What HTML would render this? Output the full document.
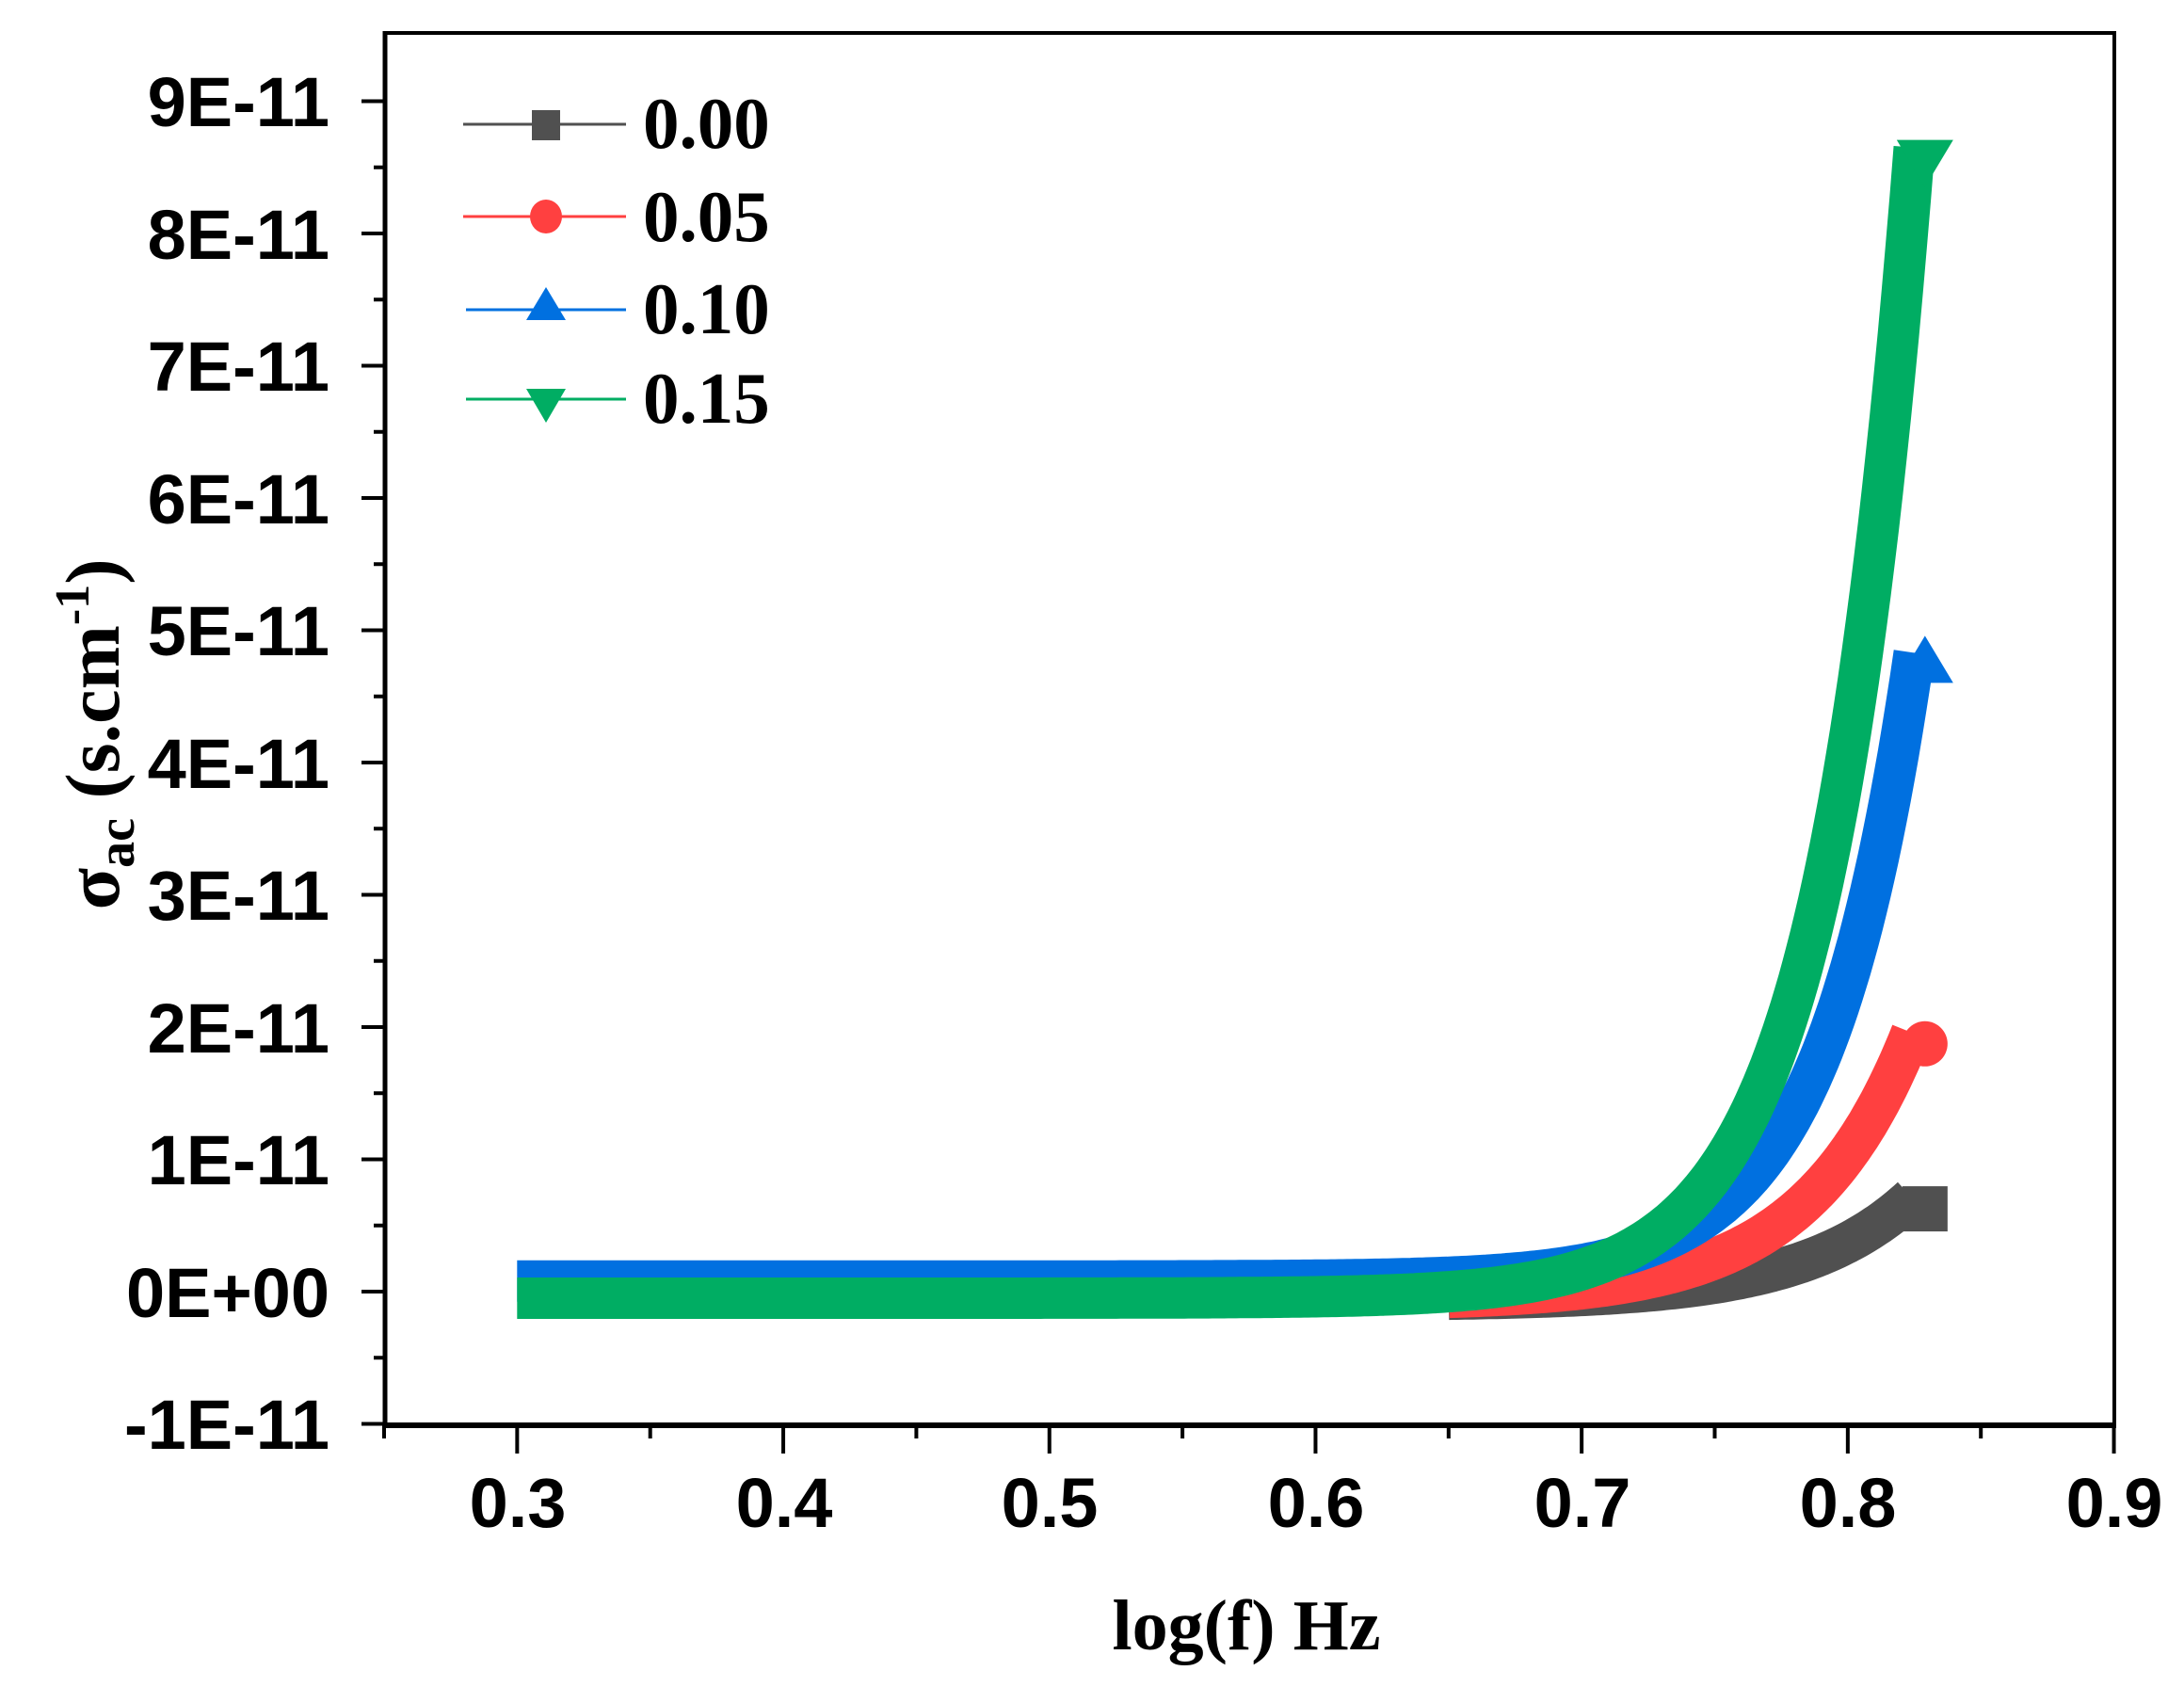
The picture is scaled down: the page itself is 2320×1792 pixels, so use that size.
<!DOCTYPE html>
<html><head><meta charset="utf-8"><style>
body{margin:0;background:#fff;}
svg{display:block;}
.tl{font-family:"Liberation Sans",sans-serif;font-weight:bold;font-size:74px;fill:#000;}
.tm{font-family:"Liberation Serif",serif;font-weight:bold;fill:#000;}
</style></head><body>
<svg id="s" width="2320" height="1792" viewBox="0 0 2320 1792" xmlns="http://www.w3.org/2000/svg">
<rect width="2320" height="1792" fill="#fff"/>
<g id="curves"></g>
<rect x="409" y="35" width="1837" height="1479" fill="none" stroke="#000" stroke-width="4"/>
<line x1="407" y1="1514" x2="2248" y2="1514" stroke="#000" stroke-width="6"/>
<line x1="409" y1="33" x2="409" y2="1516" stroke="#000" stroke-width="5"/>
<g id="ticks" stroke="#000" stroke-width="4"></g>
<g class="tl" text-anchor="end">
<text x="350" y="134">9E-11</text>
<text x="350" y="275">8E-11</text>
<text x="350" y="415">7E-11</text>
<text x="350" y="556">6E-11</text>
<text x="350" y="696">5E-11</text>
<text x="350" y="837">4E-11</text>
<text x="350" y="977">3E-11</text>
<text x="350" y="1118">2E-11</text>
<text x="350" y="1258">1E-11</text>
<text x="350" y="1399">0E+00</text>
<text x="350" y="1539">-1E-11</text>
</g>
<g class="tl" text-anchor="middle">
<text x="550" y="1622">0.3</text>
<text x="833" y="1622">0.4</text>
<text x="1115" y="1622">0.5</text>
<text x="1398" y="1622">0.6</text>
<text x="1681" y="1622">0.7</text>
<text x="1963" y="1622">0.8</text>
<text x="2246" y="1622">0.9</text>
</g>
<text class="tm" x="1324" y="1752" font-size="76" text-anchor="middle">log(f) Hz</text>
<text class="tm" transform="translate(126,780) rotate(-90)" font-size="82" text-anchor="middle">σ<tspan font-size="56" dy="16">ac</tspan><tspan dy="-16"> (s.cm</tspan><tspan font-size="52" dy="-32">-1</tspan><tspan dy="32">)</tspan></text>
<g stroke-width="3">
<line x1="492" y1="132" x2="665" y2="132" stroke="#505050"/>
<rect x="565" y="117" width="30" height="32" fill="#505050"/>
<line x1="492" y1="230" x2="665" y2="230" stroke="#ff4040"/>
<ellipse cx="580" cy="230" rx="17" ry="18" fill="#ff4040"/>
<line x1="495" y1="329" x2="665" y2="329" stroke="#0070e0"/>
<polygon points="580,305 601,340 559,340" fill="#0070e0"/>
<line x1="495" y1="424" x2="665" y2="424" stroke="#00ad63"/>
<polygon points="559,413 601,413 580,449" fill="#00ad63"/>
</g>
<g class="tm" font-size="77">
<text x="683" y="157">0.00</text>
<text x="683" y="256">0.05</text>
<text x="683" y="354">0.10</text>
<text x="683" y="449">0.15</text>
</g>
</svg>
<script>
var X=function(v){return 408+(v-0.25)*2827;};
var Y=function(v){return 1372-v*140.5;};
var t=document.getElementById('ticks'),h='';
for(var i=-2;i<=18;i++){var y=1372-i*70.25;if(y<35)continue;var L=(i%2===0)?25:12;h+='<line x1="'+(409-L)+'" y1="'+y+'" x2="409" y2="'+y+'"/>';}
for(var j=0;j<=13;j++){var x=408+j*141.35;var L=(j%2===1)?30:14;h+='<line x1="'+x+'" y1="1514" x2="'+x+'" y2="'+(1514+L)+'"/>';}
t.innerHTML=h;
var ser=[
 {c:'#505050',x0:0.65,b:-0.07,A:0.8,s:0.042,m:'sq'},
 {c:'#ff4040',x0:0.65,b:-0.07,A:2.08,s:0.040,m:'ci'},
 {c:'#0070e0',x0:0.30,b:0.08,A:4.75,s:0.0343,m:'up'},
 {c:'#00ad63',x0:0.30,b:-0.05,A:8.7,s:0.0338,m:'dn'}
];
var g='';
ser.forEach(function(o){var d='';var lx,ly;for(var v=o.x0;v<=0.8251;v+=0.0015){var val=o.b+o.A*Math.exp((v-0.825)/o.s);lx=X(v);ly=Y(val);d+=(d?'L':'M')+lx.toFixed(1)+','+ly.toFixed(1);}
g+='<path d="'+d+'" fill="none" stroke="'+o.c+'" stroke-width="44" stroke-linejoin="round"/>';
var cx=X(0.829),cy=ly+12;
if(o.m==='sq')g+='<rect x="'+(cx-24)+'" y="'+(cy-24)+'" width="48" height="48" fill="'+o.c+'"/>';
if(o.m==='ci')g+='<circle cx="'+cx+'" cy="'+(cy)+'" r="24" fill="'+o.c+'"/>';
if(o.m==='up')g+='<polygon points="'+cx+','+(cy-30)+' '+(cx+30)+','+(cy+20)+' '+(cx-30)+','+(cy+20)+'" fill="'+o.c+'"/>';
if(o.m==='dn')g+='<polygon points="'+(cx-30)+','+(cy-20)+' '+(cx+30)+','+(cy-20)+' '+cx+','+(cy+30)+'" fill="'+o.c+'"/>';
});
document.getElementById('curves').innerHTML=g;
</script>
</body></html>
